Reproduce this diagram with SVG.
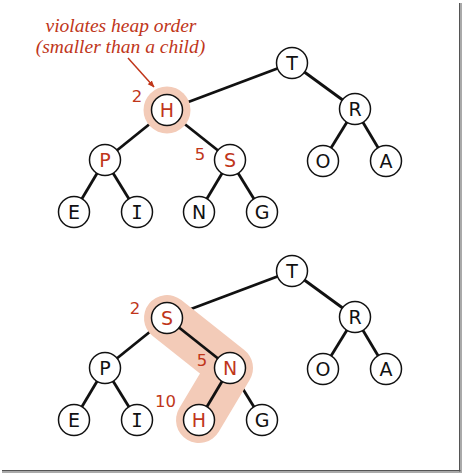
<svg xmlns="http://www.w3.org/2000/svg" width="463" height="475" viewBox="0 0 463 475">
<defs>
<style>
.edge{stroke:#111;stroke-width:2.8;fill:none}
.node circle{fill:#fff;stroke:#111;stroke-width:1.5}
.node text{font-family:"DejaVu Sans",sans-serif;font-size:19px;text-anchor:middle;fill:#111}
.node text.red{fill:#c0361a}
.node text.mono{font-family:"DejaVu Sans Mono",monospace}
.num{font-family:"DejaVu Sans",sans-serif;font-size:16.5px;fill:#c0361a;text-anchor:middle}
.note{font-family:"Liberation Serif",serif;font-style:italic;font-size:19.5px;fill:#c0361a;text-anchor:middle}
.hl{fill:#f3cbb8;stroke:none}
</style>
<marker id="arr" viewBox="0 0 10 10" refX="9" refY="5" markerWidth="7" markerHeight="7" orient="auto" markerUnits="userSpaceOnUse">
<path d="M0,1 L10,5 L0,9 Z" fill="#c0361a"/>
</marker>
</defs>
<rect x="0" y="0" width="463" height="475" fill="#fff"/>
<!-- frame shadow -->
<rect x="459" y="3" width="1.5" height="470" fill="#555"/>
<rect x="460.5" y="3" width="1.5" height="470" fill="#aaa"/>
<rect x="2" y="470" width="458.5" height="1.5" fill="#555"/>
<rect x="2" y="471.5" width="460" height="1.5" fill="#aaa"/>

<!-- annotation -->
<g id="note">
<text class="note" x="121" y="31.5">violates heap order</text>
<text class="note" x="120.5" y="52.5">(smaller than a child)</text>
<line x1="128" y1="58" x2="154" y2="87" stroke="#c0361a" stroke-width="1.5" marker-end="url(#arr)"/>
</g>

<!-- connectors -->
<g id="connectors">
<line class="edge" x1="292" y1="63" x2="167" y2="110"/>
<line class="edge" x1="292" y1="63" x2="355" y2="109"/>
<line class="edge" x1="167" y1="110" x2="105" y2="160"/>
<line class="edge" x1="167" y1="110" x2="230" y2="160"/>
<line class="edge" x1="355" y1="109" x2="323" y2="161"/>
<line class="edge" x1="355" y1="109" x2="386" y2="161"/>
<line class="edge" x1="105" y1="160" x2="74" y2="212"/>
<line class="edge" x1="105" y1="160" x2="137" y2="212"/>
<line class="edge" x1="230" y1="160" x2="199" y2="212"/>
<line class="edge" x1="230" y1="160" x2="262" y2="212"/>

<line class="edge" x1="292" y1="271" x2="167" y2="318"/>
<line class="edge" x1="292" y1="271" x2="355" y2="317"/>
<line class="edge" x1="167" y1="318" x2="105" y2="368"/>
<line class="edge" x1="355" y1="317" x2="323" y2="369"/>
<line class="edge" x1="355" y1="317" x2="386" y2="369"/>
<line class="edge" x1="105" y1="368" x2="74" y2="420"/>
<line class="edge" x1="105" y1="368" x2="137" y2="420"/>
<line class="edge" x1="230" y1="368" x2="262" y2="420"/>
</g>

<!-- highlights -->
<g id="highlights">
<circle class="hl" cx="167" cy="110" r="23.5"/>
<path d="M167,318 L230,368 L199,420" fill="none" stroke="#f3cbb8" stroke-width="46" stroke-linecap="round" stroke-linejoin="round"/>
</g>
<g id="connectors-path">
<line class="edge" x1="167" y1="318" x2="230" y2="368"/>
<line class="edge" x1="230" y1="368" x2="199" y2="420"/>
</g>

<!-- top tree nodes -->
<g id="t1" class="node"><circle cx="292" cy="63" r="15.5"/><text x="292" y="70">T</text></g>
<g id="h1" class="node"><circle cx="167" cy="110" r="15.5"/><text class="red" x="167" y="117">H</text></g>
<g id="r1" class="node"><circle cx="355" cy="109" r="15.5"/><text x="355" y="116">R</text></g>
<g id="p1" class="node"><circle cx="105" cy="160" r="15.5"/><text class="red" x="105" y="167">P</text></g>
<g id="s1" class="node"><circle cx="230" cy="160" r="15.5"/><text class="red" x="230" y="167">S</text></g>
<g id="o1" class="node"><circle cx="323" cy="161" r="15.5"/><text x="323" y="168">O</text></g>
<g id="a1" class="node"><circle cx="386" cy="161" r="15.5"/><text x="386" y="168">A</text></g>
<g id="e1" class="node"><circle cx="74" cy="212" r="15.5"/><text x="74" y="219">E</text></g>
<g id="i1" class="node"><circle cx="137" cy="212" r="15.5"/><text class="mono" x="137" y="219">I</text></g>
<g id="n1" class="node"><circle cx="199" cy="212" r="15.5"/><text x="199" y="219">N</text></g>
<g id="g1" class="node"><circle cx="262" cy="212" r="15.5"/><text x="262" y="219">G</text></g>

<!-- bottom tree nodes -->
<g id="t2" class="node"><circle cx="292" cy="271" r="15.5"/><text x="292" y="278">T</text></g>
<g id="s2" class="node"><circle cx="167" cy="318" r="15.5"/><text class="red" x="167" y="325">S</text></g>
<g id="r2" class="node"><circle cx="355" cy="317" r="15.5"/><text x="355" y="324">R</text></g>
<g id="p2" class="node"><circle cx="105" cy="368" r="15.5"/><text x="105" y="375">P</text></g>
<g id="n2" class="node"><circle cx="230" cy="368" r="15.5"/><text class="red" x="230" y="375">N</text></g>
<g id="o2" class="node"><circle cx="323" cy="369" r="15.5"/><text x="323" y="376">O</text></g>
<g id="a2" class="node"><circle cx="386" cy="369" r="15.5"/><text x="386" y="376">A</text></g>
<g id="e2" class="node"><circle cx="74" cy="420" r="15.5"/><text x="74" y="427">E</text></g>
<g id="i2" class="node"><circle cx="137" cy="420" r="15.5"/><text class="mono" x="137" y="427">I</text></g>
<g id="h2" class="node"><circle cx="199" cy="420" r="15.5"/><text class="red" x="199" y="427">H</text></g>
<g id="g2" class="node"><circle cx="262" cy="420" r="15.5"/><text x="262" y="427">G</text></g>

<!-- index labels -->
<g id="labels">
<text class="num" x="137" y="102">2</text>
<text class="num" x="200" y="160">5</text>
<text class="num" x="135" y="314">2</text>
<text class="num" x="202" y="366">5</text>
<text class="num" x="165.5" y="407">10</text>
</g>
</svg>
